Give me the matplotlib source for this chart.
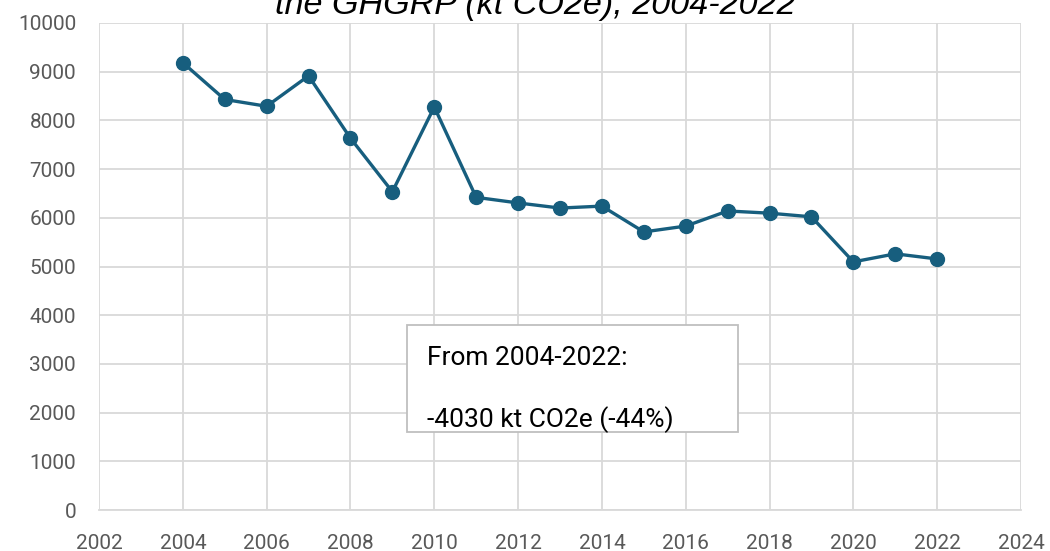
import matplotlib
matplotlib.use("Agg")
import matplotlib.pyplot as plt
from matplotlib.patches import Rectangle

plt.rcParams['font.family'] = ['Roboto', 'DejaVu Sans']

# emissions by year (kt CO2e)
years = [2004, 2005, 2006, 2007, 2008, 2009, 2010, 2011, 2012, 2013,
         2014, 2015, 2016, 2017, 2018, 2019, 2020, 2021, 2022]
emissions = [9185, 8430, 8290, 8915, 7635, 6535, 8275, 6420, 6305, 6200,
             6240, 5710, 5830, 6140, 6095, 6020, 5095, 5260, 5155]

x_ticks = list(range(2002, 2025, 2))
y_ticks = list(range(0, 10001, 1000))

title_line = "the GHGRP (kt CO2e), 2004-2022"
box_lines = ["From 2004-2022:", "-4030 kt CO2e (-44%)"]

W, H = 1050, 551
fig = plt.figure(figsize=(W / 100, H / 100), dpi=100)
ax = fig.add_axes([99 / W, (H - 510) / H, (1021 - 99) / W, (510 - 23) / H])

line_col = "#175E7E"
grid_col = "#D9D9D9"
tick_col = "#595959"

ax.plot(years, emissions, color=line_col, lw=2.4, marker="o", markersize=10,
        zorder=3, clip_on=False)

ax.set_xlim(2002, 2024)
ax.set_ylim(0, 10000)
ax.set_xticks(x_ticks)
ax.set_yticks(y_ticks)
ax.grid(True, color=grid_col, lw=1.3)
ax.set_axisbelow(True)
for side in ["top", "right", "left"]:
    ax.spines[side].set_visible(False)
ax.spines["bottom"].set_color(grid_col)
ax.spines["bottom"].set_linewidth(1.3)
ax.tick_params(length=0, labelsize=15, labelcolor=tick_col)
ax.tick_params(axis="y", pad=16.5)
ax.tick_params(axis="x", pad=17)

# title: only its lower line peeks in at the top edge, as in the source image
t = fig.text(535 / W, 1 - 14 / H, title_line, ha="center", va="baseline",
             fontsize=20, style="italic", color="#000000",
             family=["Liberation Sans", "DejaVu Sans"])
fig.canvas.draw()
w = t.get_window_extent(fig.canvas.get_renderer()).width
t.set_fontsize(20 * 520 / w)

# summary box
box = Rectangle((407 / W, 1 - 432 / H), (738 - 407) / W, (432 - 325) / H,
                transform=fig.transFigure, facecolor="white",
                edgecolor="#BFBFBF", lw=1.3, zorder=5)
fig.patches.append(box)
fig.text(427 / W, 1 - 365 / H, box_lines[0], ha="left", va="baseline",
         fontsize=19, color="black", zorder=6)
fig.text(427 / W, 1 - 427 / H, box_lines[1], ha="left", va="baseline",
         fontsize=19, color="black", zorder=6)

fig.savefig("out.png", dpi=100)
